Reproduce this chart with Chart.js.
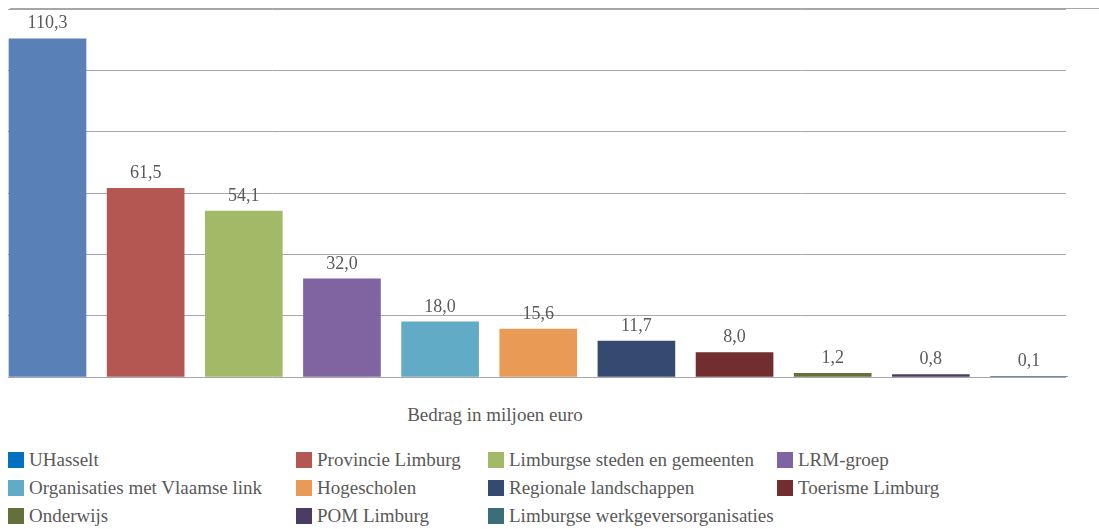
<!DOCTYPE html>
<html>
<head>
<meta charset="utf-8">
<script src="https://cdn.jsdelivr.net/npm/chart.js@4.4.1/dist/chart.umd.min.js"></script>
<style>
  html, body { margin: 0; padding: 0; background: #ffffff; }
  body { width: 1099px; height: 529px; position: relative; overflow: hidden;
         font-family: "Liberation Serif", "DejaVu Serif", serif; color: #595959; }
  #wrap { position: absolute; left: 0; top: 0; width: 1099px; height: 400px; }
  #topline { position: absolute; left: 10px; top: 8px; width: 1089px; height: 1px; background: #a6a6a6; }
  #axisTitle { position: absolute; top: 402px; left: 395px; width: 200px; text-align: center;
               font-size: 19px; line-height: 26px; }
  .leg { position: absolute; display: flex; align-items: center; font-size: 19px; line-height: 20px; white-space: nowrap; }
  .sw { width: 16px; height: 16px; margin-right: 5px; flex: none; }
</style>
</head>
<body>
<div id="topline"></div>
<div id="wrap"><canvas id="c"></canvas></div>
<div id="axisTitle">Bedrag in miljoen euro</div>
<div id="legend"></div>
<script>
// ---- data ----
const categories = [
  "UHasselt", "Provincie Limburg", "Limburgse steden en gemeenten", "LRM-groep",
  "Organisaties met Vlaamse link", "Hogescholen", "Regionale landschappen", "Toerisme Limburg",
  "Onderwijs", "POM Limburg", "Limburgse werkgeversorganisaties"
];
const values = [110.3, 61.5, 54.1, 32.0, 18.0, 15.6, 11.7, 8.0, 1.2, 0.8, 0.1];
const yTicks = [0, 20, 40, 60, 80, 100, 120];
const axisTitle = "Bedrag in miljoen euro";

// ---- styles ----
const barColors = ["#5a80b8", "#b45752", "#a2ba67", "#7f64a1", "#62abc6", "#e99b56",
                   "#344a70", "#722e2e", "#637039", "#4a3c62", "#3a6e78"];
const legendColors = ["#0070c0", "#b45752", "#a2ba67", "#7f64a1", "#62abc6", "#e99b56",
                      "#344a70", "#722e2e", "#637039", "#4a3c62", "#3a6e78"];

const fmt = v => v.toFixed(1).replace(".", ",");

const valueLabels = {
  id: "valueLabels",
  afterDatasetsDraw(chart) {
    const ctx = chart.ctx;
    const meta = chart.getDatasetMeta(0);
    ctx.save();
    ctx.font = '18px "Liberation Serif", "DejaVu Serif", serif';
    ctx.fillStyle = "#595959";
    ctx.textAlign = "center";
    ctx.textBaseline = "middle";
    meta.data.forEach((bar, i) => {
      ctx.fillText(fmt(values[i]), bar.x, bar.y - 15);
    });
    ctx.restore();
  }
};

new Chart(document.getElementById("c"), {
  type: "bar",
  data: {
    datasets: [{
      data: values.map((v, i) => ({ x: i, y: v })),
      backgroundColor: barColors,
      borderWidth: 0,
      barThickness: 77,
      clip: false
    }]
  },
  options: {
    responsive: true,
    maintainAspectRatio: false,
    animation: false,
    layout: { padding: { left: 8, right: 33, top: 9, bottom: 23 } },
    plugins: { legend: { display: false }, tooltip: { enabled: false } },
    scales: {
      x: {
        type: "linear",
        offset: false,
        min: -0.4025,
        max: 10.377,
        display: false,
        grid: { offset: false }
      },
      y: {
        min: yTicks[0],
        max: yTicks[yTicks.length - 1],
        afterBuildTicks: s => { s.ticks = yTicks.map(v => ({ value: v })); },
        afterFit: s => { s.width = 0; },
        ticks: { display: false },
        border: { display: false },
        grid: { color: "#a6a6a6", lineWidth: 1, drawTicks: false }
      }
    }
  },
  plugins: [valueLabels]
});

// ---- HTML legend (4 columns) ----
const colX = [8, 296, 488, 777];
const rowY = [451, 479, 507];
const legend = document.getElementById("legend");
categories.forEach((name, i) => {
  const d = document.createElement("div");
  d.className = "leg";
  d.style.left = colX[i % 4] + "px";
  d.style.top = rowY[Math.floor(i / 4)] - 1 + "px";
  const sw = document.createElement("span");
  sw.className = "sw";
  sw.style.background = legendColors[i];
  const t = document.createElement("span");
  t.textContent = name;
  d.appendChild(sw);
  d.appendChild(t);
  legend.appendChild(d);
});
</script>
</body>
</html>
